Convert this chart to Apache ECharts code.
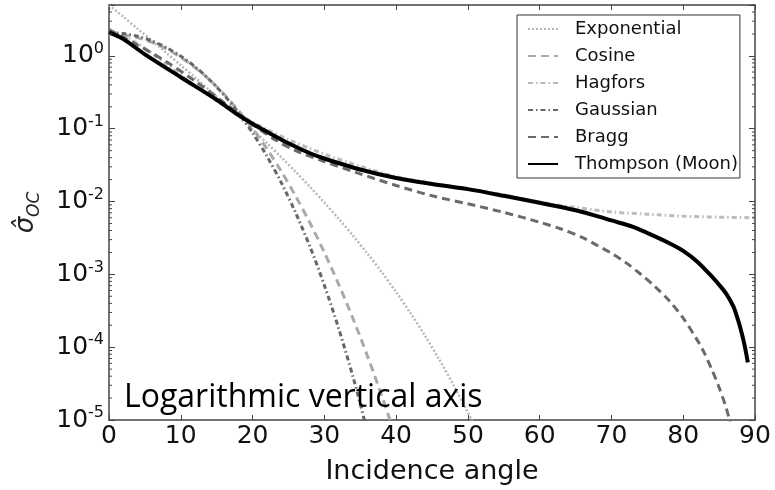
<!DOCTYPE html>
<html lang="en">
<head>
    <meta charset="UTF-8">
    <title>Backscatter laws</title>
    <script src="https://cdn.jsdelivr.net/npm/echarts@6.0.0/dist/echarts.min.js"></script>
    <style>
        html, body {
            margin: 0;
            padding: 0;
            background: #fff;
        }

        #chart {
            width: 775px;
            height: 490px;
        }
    </style>
</head>
<body>
<div id="chart"></div>
<script>
    // values
    const expAngle = [0, 2, 4, 6, 8, 10, 12, 14, 16, 18, 20, 22, 24, 26, 28, 30, 32, 34, 36, 38, 40, 42, 44, 46, 48, 50, 51];
    const expValue = [5.0, 3.44, 2.35, 1.61, 1.10, 0.743, 0.502, 0.337, 0.225, 0.149, 0.0975, 0.0633, 0.0405, 0.0256, 0.0159,
        0.00969, 0.00579, 0.00339, 0.00193, 0.00107, 5.7e-4, 2.94e-4, 1.45e-4, 6.8e-5, 3.0e-5, 1.26e-5, 7.9e-6];

    const cosAngle = [0, 2, 4, 6, 8, 10, 12, 14, 16, 18, 20, 22, 24, 26, 28, 30, 32, 34, 36, 38, 39, 40];
    const cosValue = [2.0, 1.94, 1.77, 1.53, 1.25, 0.957, 0.69, 0.470, 0.30, 0.179, 0.101, 0.053, 0.026, 0.0119, 0.00507,
        0.0020, 7.3e-4, 2.46e-4, 7.6e-5, 2.15e-5, 1.1e-5, 5.5e-6];

    const hagAngle = [0, 2, 4, 6, 8, 10, 12, 14, 16, 18, 20, 22, 25, 30, 35, 40, 45, 50, 55, 60, 65, 70, 75, 80, 85, 90];
    const hagValue = [2.0, 1.849, 1.476, 1.084, 0.768, 0.541, 0.386, 0.281, 0.209, 0.159, 0.123, 0.0976, 0.0709, 0.0448,
        0.0305, 0.0220, 0.0178, 0.0150, 0.0123, 0.0098, 0.0083, 0.0072, 0.0067, 0.0063, 0.0061, 0.0060];

    const gauAngle = [0, 2, 4, 6, 8, 10, 12, 14, 16, 18, 20, 22, 24, 26, 28, 30, 32, 34, 35, 36];
    const gauValue = [2.09, 2.03, 1.86, 1.60, 1.30, 0.99, 0.708, 0.471, 0.292, 0.167, 0.0875, 0.0420, 0.0182, 0.0070,
        0.0024, 7.1e-4, 1.8e-4, 3.9e-5, 1.67e-5, 6.8e-6];

    const braAngle = [0, 4, 8, 12, 16, 20, 23, 26, 30, 35, 40, 45, 50, 55, 60, 63, 66, 68, 70, 72, 74, 76, 78, 80, 82, 83,
        84, 85, 86, 87];
    const braValue = [2.3, 1.41, 0.83, 0.45, 0.23, 0.115, 0.072, 0.050, 0.0355, 0.024, 0.0166, 0.012, 0.0093, 0.0071,
        0.0052, 0.0042, 0.0032, 0.0025, 0.00195, 0.00145, 0.00102, 0.00069, 0.00044, 0.00025, 0.000123, 8.1e-5, 4.9e-5,
        2.8e-5, 1.45e-5, 6.3e-6];

    const thoAngle = [0, 2, 5, 10, 15, 18, 20, 22, 25, 28, 30, 35, 40, 45, 50, 55, 60, 65, 68, 70, 73, 75, 78, 80, 82, 84,
        85, 86, 87, 87.5, 88, 88.5, 89];
    const thoValue = [2.1, 1.7, 1.05, 0.51, 0.25, 0.155, 0.117, 0.091, 0.063, 0.046, 0.039, 0.0275, 0.021, 0.0174, 0.0148,
        0.012, 0.0096, 0.0076, 0.0063, 0.0055, 0.0045, 0.0037, 0.0027, 0.0021, 0.00148, 0.00093, 0.00072, 0.00054,
        0.00036, 0.00026, 0.000178, 0.000112, 0.000062];

    // log minor ticks 2..9 in each decade
    const minorTicks = [];
    for (let k = -5; k <= 0; k++) {
        for (let m = 2; m <= 9; m++) {
            const v = m * Math.pow(10, k);
            if (v <= 5) minorTicks.push([0, v]);
        }
    }

    const pairs = (xs, ys) => xs.map((x, i) => [x, ys[i]]);
    const FONT = 'DejaVu Sans';
    const FRAME = '#444';

    function lineSeries(name, xs, ys, color, width, dash, z) {
        return {
            name: name,
            type: 'line',
            data: pairs(xs, ys),
            showSymbol: false,
            symbol: 'none',
            smooth: 0.3,
            z: z,
            lineStyle: {color: color, width: width, type: dash},
            itemStyle: {color: color}
        };
    }

    function powLabel(v) {
        const lg = Math.log10(v);
        const n = Math.round(lg);
        if (Math.abs(lg - n) > 0.01) return '';
        return '{b|10}{s|' + n + '}';
    }

    const chart = echarts.init(document.getElementById('chart'));
    chart.setOption({
        animation: false,
        backgroundColor: '#fff',
        grid: {left: 109, right: 20, top: 5, bottom: 63},
        legend: {
            orient: 'vertical',
            left: 517,
            top: 15,
            padding: [5, 2, 5, 10],
            itemWidth: 30,
            itemHeight: 14,
            itemGap: 9,
            backgroundColor: '#fff',
            borderColor: '#333',
            borderWidth: 1,
            borderRadius: 0,
            itemStyle: {opacity: 0},
            textStyle: {fontFamily: FONT, fontSize: 18, lineHeight: 18, color: '#111', padding: [0, 0, 0, 12]},
            data: ['Exponential', 'Cosine', 'Hagfors', 'Gaussian', 'Bragg', 'Thompson (Moon)']
        },
        xAxis: [{
            type: 'value',
            min: 0, max: 90, interval: 10,
            position: 'bottom',
            name: 'Incidence angle',
            nameLocation: 'middle',
            nameGap: 38,
            nameTextStyle: {fontFamily: FONT, fontSize: 27, color: '#111'},
            axisLine: {show: true, onZero: false, lineStyle: {color: FRAME, width: 1.5}},
            axisTick: {show: true, inside: true, length: 5, lineStyle: {color: FRAME}},
            axisLabel: {fontFamily: FONT, fontSize: 25, color: '#111', margin: 4},
            splitLine: {show: false}
        }, {
            type: 'value',
            min: 0, max: 90, interval: 10,
            position: 'top',
            axisLine: {show: true, onZero: false, lineStyle: {color: FRAME, width: 1.5}},
            axisTick: {show: true, inside: true, length: 5, lineStyle: {color: FRAME}},
            axisLabel: {show: false},
            splitLine: {show: false}
        }],
        yAxis: [{
            type: 'log',
            logBase: 10,
            min: 1e-5, max: 5, interval: 1,
            position: 'left',
            name: '{a|σ̂}{b|OC}',
            nameLocation: 'middle',
            nameGap: 66,
            nameTextStyle: {
                rich: {
                    a: {fontFamily: FONT, fontStyle: 'italic', fontSize: 26, lineHeight: 34, color: '#222'},
                    b: {fontFamily: FONT, fontStyle: 'italic', fontSize: 17, lineHeight: 18, verticalAlign: 'bottom', color: '#222'}
                }
            },
            axisLine: {show: true, onZero: false, lineStyle: {color: FRAME, width: 1.5}},
            axisTick: {show: true, inside: true, length: 6, lineStyle: {color: FRAME}},
            axisLabel: {
                margin: 5,
                formatter: powLabel,
                rich: {
                    b: {fontFamily: FONT, fontSize: 25, lineHeight: 30, color: '#111'},
                    s: {fontFamily: FONT, fontSize: 16, lineHeight: 16, verticalAlign: 'top', color: '#111'}
                }
            },
            splitLine: {show: false}
        }, {
            type: 'log',
            logBase: 10,
            min: 1e-5, max: 5, interval: 1,
            position: 'right',
            axisLine: {show: true, onZero: false, lineStyle: {color: FRAME, width: 1.5}},
            axisTick: {show: true, inside: true, length: 6, lineStyle: {color: FRAME}},
            axisLabel: {show: false},
            splitLine: {show: false}
        }],
        graphic: [{
            type: 'text',
            left: 124,
            top: 382,
            z: 100,
            style: {
                text: 'Logarithmic vertical axis',
                fontFamily: 'Open Sans',
                fontSize: 32,
                fill: '#000'
            }
        }],
        series: [
            lineSeries('Exponential', expAngle, expValue, '#b8b8b8', 2.5, [2, 2], 2),
            lineSeries('Cosine', cosAngle, cosValue, '#aaaaaa', 3, [8, 5], 3),
            lineSeries('Hagfors', hagAngle, hagValue, '#bcbcbc', 3, [5, 3, 1.5, 3], 4),
            lineSeries('Gaussian', gauAngle, gauValue, '#666666', 3, [5, 3, 1.5, 3], 5),
            lineSeries('Bragg', braAngle, braValue, '#6a6a6a', 3, [8, 5], 6),
            lineSeries('Thompson (Moon)', thoAngle, thoValue, '#000000', 4, 'solid', 7),
            {
                type: 'custom',
                silent: true,
                z: 10,
                data: minorTicks,
                renderItem: function (params, api) {
                    const v = api.value(1);
                    const l = api.coord([0, v]);
                    const r = api.coord([90, v]);
                    return {
                        type: 'group',
                        children: [{
                            type: 'line',
                            shape: {x1: l[0], y1: l[1], x2: l[0] + 3, y2: l[1]},
                            style: {stroke: FRAME, lineWidth: 1}
                        }, {
                            type: 'line',
                            shape: {x1: r[0], y1: r[1], x2: r[0] - 3, y2: r[1]},
                            style: {stroke: FRAME, lineWidth: 1}
                        }]
                    };
                }
            }
        ]
    });
</script>
</body>
</html>
